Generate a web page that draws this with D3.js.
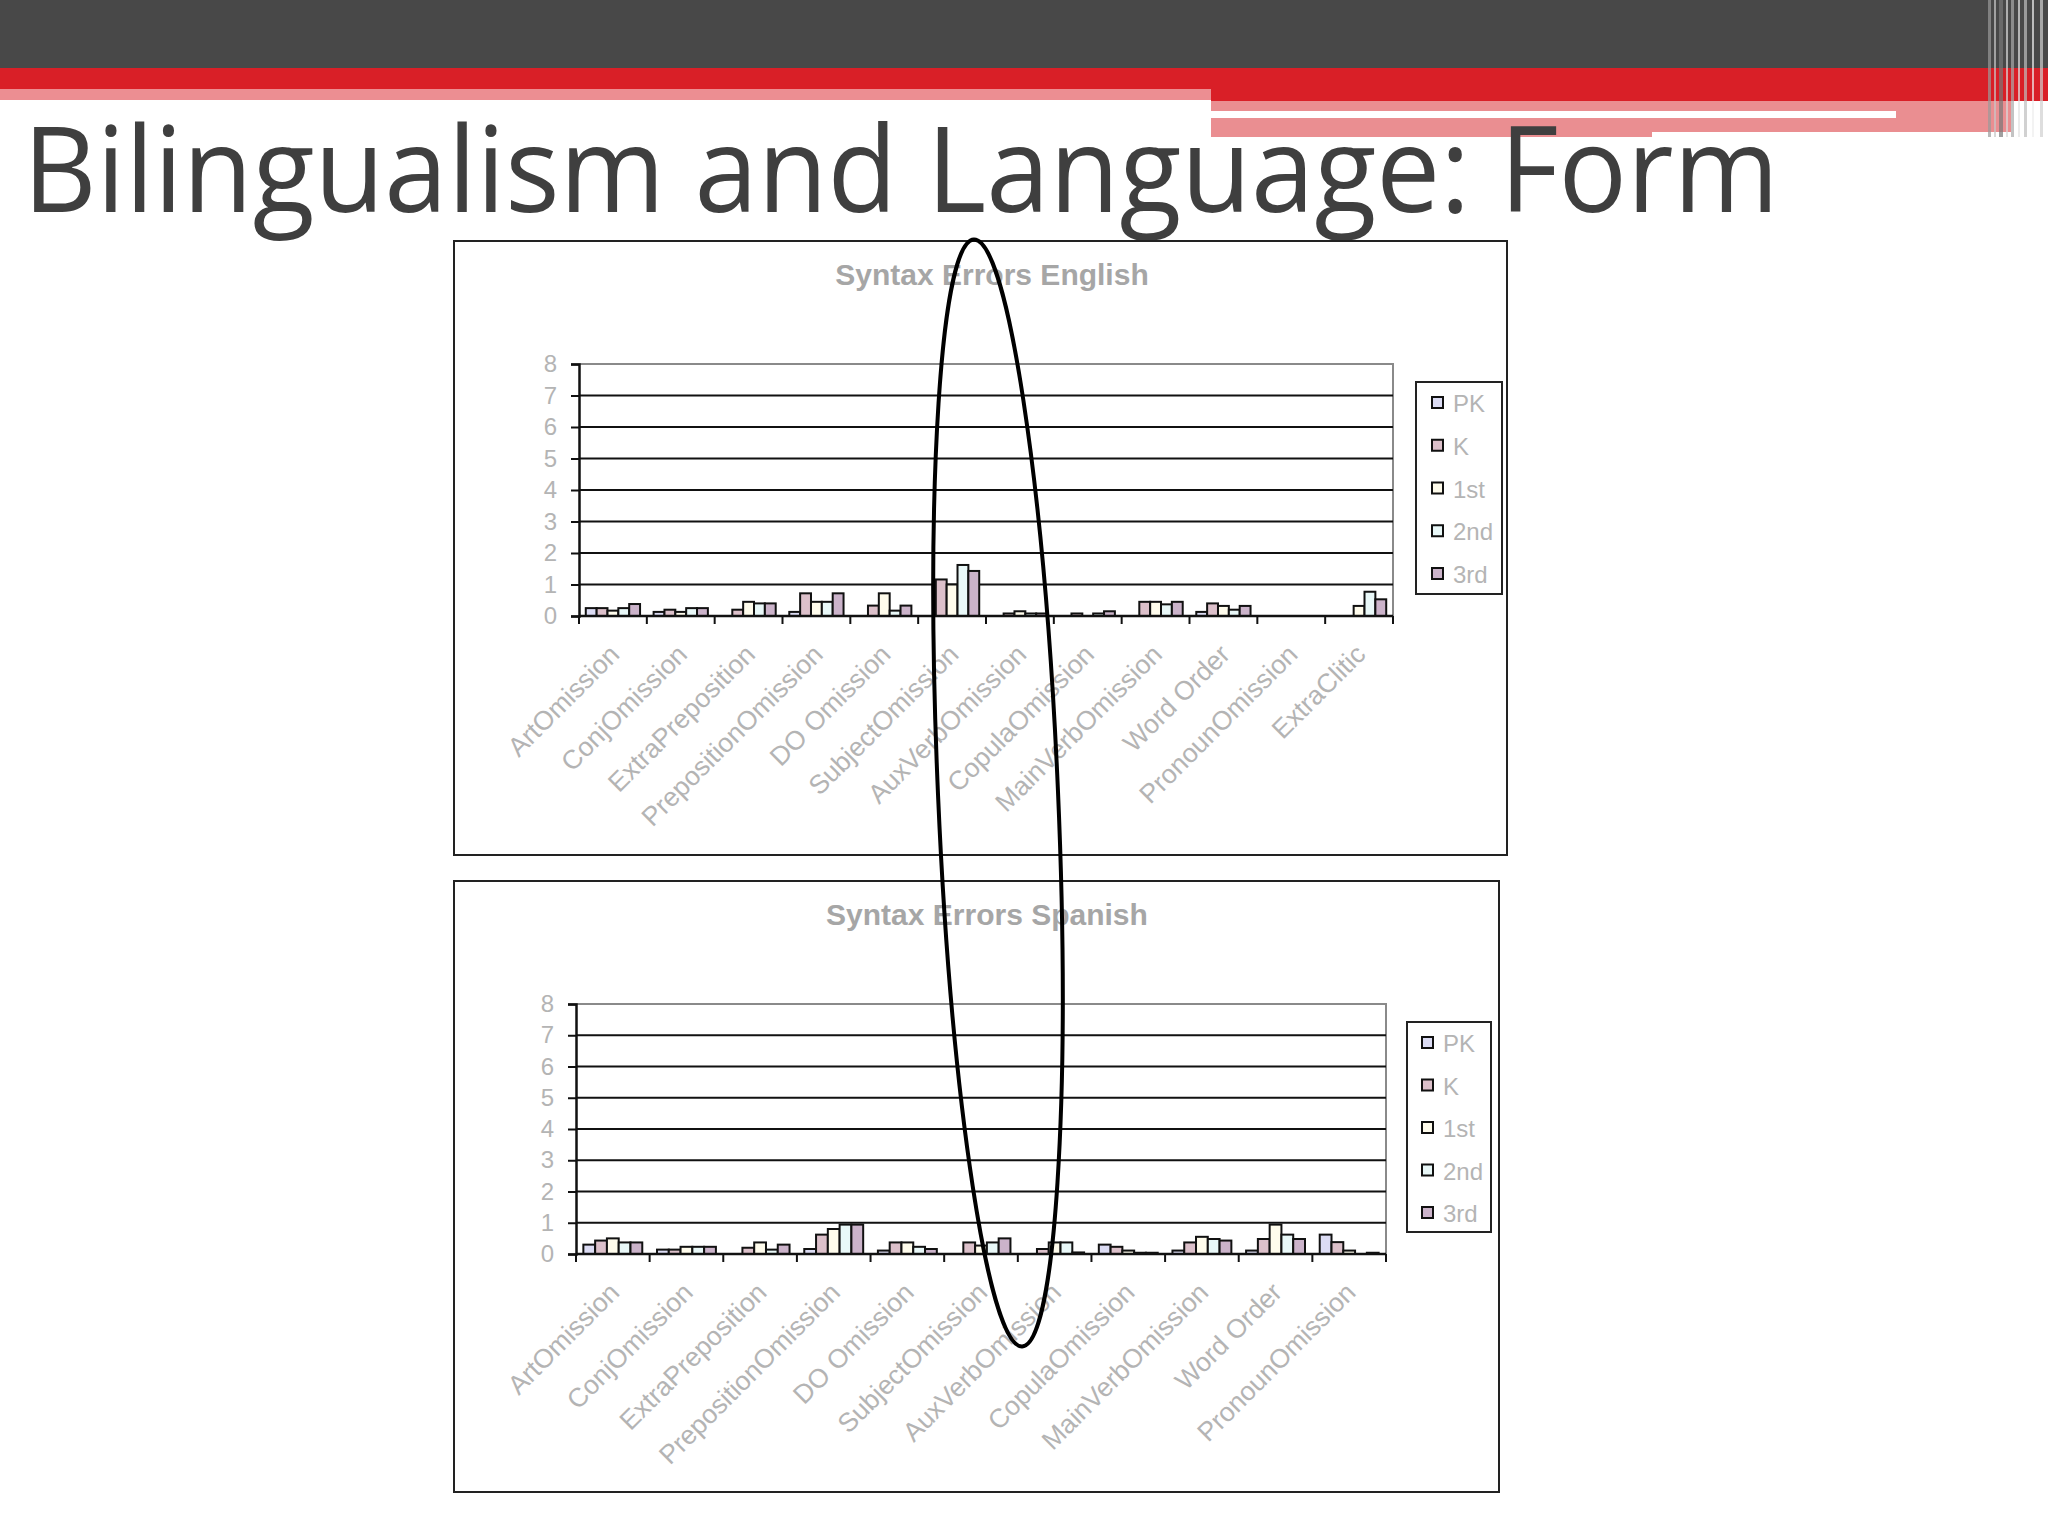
<!DOCTYPE html>
<html>
<head>
<meta charset="utf-8">
<script src="https://cdn.jsdelivr.net/npm/d3@7"></script>
<style>
  html, body { margin: 0; padding: 0; background: #fff; }
  svg { display: block; }
</style>
</head>
<body>
<svg id="slide" width="2048" height="1536"></svg>
<script>
// --- data ---
const grades = ["PK", "K", "1st", "2nd", "3rd"];
const gradeColors = ["#dcdcf4", "#dcc0ca", "#fffcec", "#e9f8f8", "#cbb3ca"];

const englishCategories = ["ArtOmission", "ConjOmission", "ExtraPreposition", "PrepositionOmission", "DO Omission",
    "SubjectOmission", "AuxVerbOmission", "CopulaOmission", "MainVerbOmission", "Word Order", "PronounOmission", "ExtraClitic"];
const englishPK  = [0.25, 0.13, 0,    0.13, 0,    0,    0,    0,    0,    0.13, 0, 0];
const englishK   = [0.25, 0.20, 0.20, 0.72, 0.33, 1.16, 0.08, 0.08, 0.45, 0.40, 0, 0];
const english1st = [0.17, 0.13, 0.45, 0.45, 0.72, 1.00, 0.15, 0,    0.45, 0.32, 0, 0.32];
const english2nd = [0.25, 0.25, 0.40, 0.45, 0.17, 1.62, 0.08, 0.08, 0.37, 0.20, 0, 0.77];
const english3rd = [0.38, 0.25, 0.40, 0.72, 0.33, 1.43, 0.08, 0.15, 0.45, 0.32, 0, 0.53];

const spanishCategories = ["ArtOmission", "ConjOmission", "ExtraPreposition", "PrepositionOmission", "DO Omission",
    "SubjectOmission", "AuxVerbOmission", "CopulaOmission", "MainVerbOmission", "Word Order", "PronounOmission"];
const spanishPK  = [0.30, 0.14, 0,    0.16, 0.11, 0,    0,    0.30, 0.11, 0.11, 0.62];
const spanishK   = [0.43, 0.14, 0.20, 0.62, 0.37, 0.37, 0.16, 0.23, 0.37, 0.48, 0.38];
const spanish1st = [0.50, 0.23, 0.37, 0.80, 0.37, 0.27, 0.37, 0.11, 0.55, 0.94, 0.11];
const spanish2nd = [0.37, 0.23, 0.14, 0.94, 0.23, 0.37, 0.37, 0.04, 0.48, 0.62, 0];
const spanish3rd = [0.37, 0.23, 0.30, 0.94, 0.16, 0.50, 0.05, 0.04, 0.43, 0.48, 0.04];

const yTicks = [0, 1, 2, 3, 4, 5, 6, 7, 8];

const svg = d3.select("#slide");
const FONT = "'Liberation Sans', Arial, sans-serif";
const LABEL_GREY = "#b4b4b4";

// --- slide header bands ---
const header = svg.append("g");
header.append("rect").attr("x", 0).attr("y", 0).attr("width", 2048).attr("height", 68).attr("fill", "#484848");
header.append("rect").attr("x", 0).attr("y", 68).attr("width", 2048).attr("height", 21).attr("fill", "#d91f27");
header.append("rect").attr("x", 0).attr("y", 89).attr("width", 1211).attr("height", 11).attr("fill", "#ec8e92");
header.append("rect").attr("x", 1211).attr("y", 89).attr("width", 837).attr("height", 12).attr("fill", "#d91f27");
header.append("rect").attr("x", 1211).attr("y", 101).attr("width", 800).attr("height", 31).attr("fill", "#ea8e91");
header.append("rect").attr("x", 1211).attr("y", 132).attr("width", 441).attr("height", 5).attr("fill", "#ea8e91");
header.append("rect").attr("x", 1211).attr("y", 111).attr("width", 685).attr("height", 7).attr("fill", "#fff");
// faded vertical stripes at the right edge
const stripes = [[1988, 3, "#9a9a9a"], [1994, 2, "#c8c8c8"], [1999, 4, "#777"], [2006, 2, "#d8d8d8"],
    [2011, 3, "#aaa"], [2018, 2, "#e2e2e2"], [2024, 3, "#bdbdbd"], [2032, 2, "#eee"], [2040, 3, "#d0d0d0"]];
stripes.forEach(s => header.append("rect").attr("x", s[0]).attr("y", 0).attr("width", s[1]).attr("height", 137)
    .attr("fill", s[2]).attr("opacity", 0.7));

svg.append("text")
    .attr("x", 23).attr("y", 212)
    .attr("textLength", 1756).attr("lengthAdjust", "spacingAndGlyphs")
    .attr("font-family", "'Open Sans', 'Noto Sans', sans-serif")
    .attr("font-size", 119)
    .attr("fill", "#3f3f3f")
    .text("Bilingualism and Language: Form");

function drawChart(cfg) {
    const g = svg.append("g");
    g.append("rect")
        .attr("x", cfg.frame[0]).attr("y", cfg.frame[1])
        .attr("width", cfg.frame[2] - cfg.frame[0]).attr("height", cfg.frame[3] - cfg.frame[1])
        .attr("fill", "#fff").attr("stroke", "#222").attr("stroke-width", 2);

    g.append("text")
        .attr("x", cfg.titleX).attr("y", cfg.titleY)
        .attr("text-anchor", "middle")
        .attr("font-family", FONT).attr("font-weight", "bold").attr("font-size", 30)
        .attr("fill", "#a6a6a6")
        .text(cfg.title);

    const x = d3.scaleBand().domain(cfg.categories).range([cfg.left, cfg.right]);
    const xg = d3.scaleBand().domain(grades).range([x.bandwidth() * 0.1, x.bandwidth() * 0.9]);
    const y = d3.scaleLinear().domain([0, 8]).range([cfg.bottom, cfg.top]);

    // plot area border (grey on top and right)
    g.append("path")
        .attr("d", `M${cfg.left},${cfg.top}H${cfg.right}V${cfg.bottom}`)
        .attr("fill", "none").attr("stroke", "#8a8a8a").attr("stroke-width", 2);

    // gridlines
    g.selectAll("line.grid").data(yTicks.filter(t => t > 0 && t < 8)).join("line")
        .attr("x1", cfg.left).attr("x2", cfg.right)
        .attr("y1", d => y(d)).attr("y2", d => y(d))
        .attr("stroke", "#111").attr("stroke-width", 2);

    // y axis
    const yAxis = g.append("g").attr("transform", `translate(${cfg.left},0)`)
        .call(d3.axisLeft(y).tickValues(yTicks).tickSize(8).tickPadding(14));
    yAxis.select(".domain").attr("stroke", "#111").attr("stroke-width", 2.5);
    yAxis.selectAll(".tick line").attr("stroke", "#111").attr("stroke-width", 2);
    yAxis.selectAll(".tick text").attr("font-family", FONT).attr("font-size", 24).attr("fill", LABEL_GREY);

    // bars
    const series = cfg.series;
    const groups = g.append("g").selectAll("g").data(cfg.categories).join("g")
        .attr("transform", d => `translate(${x(d)},0)`);
    groups.selectAll("rect")
        .data((d, i) => grades.map((gr, j) => ({grade: gr, color: gradeColors[j], value: series[j][i]})).filter(b => b.value > 0))
        .join("rect")
        .attr("x", b => xg(b.grade))
        .attr("width", xg.bandwidth())
        .attr("y", b => y(b.value))
        .attr("height", b => y(0) - y(b.value))
        .attr("fill", b => b.color)
        .attr("stroke", "#111").attr("stroke-width", 2);

    // x axis
    const xAxis = g.append("g").attr("transform", `translate(0,${cfg.bottom})`);
    xAxis.append("line").attr("x1", cfg.left).attr("x2", cfg.right).attr("stroke", "#111").attr("stroke-width", 2.5);
    const bounds = cfg.categories.map(c => x(c)).concat([cfg.right]);
    xAxis.selectAll("line.tick").data(bounds).join("line")
        .attr("x1", d => d).attr("x2", d => d).attr("y1", 0).attr("y2", 8)
        .attr("stroke", "#111").attr("stroke-width", 2);
    xAxis.selectAll("text").data(cfg.categories).join("text")
        .attr("transform", d => `translate(${x(d) + x.bandwidth() / 2 + 8},40) rotate(-45)`)
        .attr("text-anchor", "end")
        .attr("font-family", FONT).attr("font-size", 26.5)
        .attr("fill", LABEL_GREY)
        .text(d => d);

    // legend
    const lg = g.append("g");
    lg.append("rect")
        .attr("x", cfg.legend[0]).attr("y", cfg.legend[1])
        .attr("width", cfg.legend[2] - cfg.legend[0]).attr("height", cfg.legend[3] - cfg.legend[1])
        .attr("fill", "#fff").attr("stroke", "#222").attr("stroke-width", 2);
    const ly = d3.scalePoint().domain(grades).range([cfg.legendItemY[0], cfg.legendItemY[1]]);
    const items = lg.selectAll("g").data(grades).join("g")
        .attr("transform", d => `translate(${cfg.legendSwatchX},${ly(d)})`);
    items.append("rect")
        .attr("x", 0).attr("y", -6).attr("width", 11).attr("height", 11)
        .attr("fill", (d, i) => gradeColors[i]).attr("stroke", "#111").attr("stroke-width", 2);
    items.append("text")
        .attr("x", 21).attr("y", 9)
        .attr("font-family", FONT).attr("font-size", 24).attr("fill", LABEL_GREY)
        .text(d => d);
}

drawChart({
    title: "Syntax Errors English", titleX: 992, titleY: 285,
    frame: [454, 241, 1507, 855],
    left: 579, right: 1393, top: 364, bottom: 616,
    categories: englishCategories,
    series: [englishPK, englishK, english1st, english2nd, english3rd],
    legend: [1416, 382, 1502, 594], legendItemY: [403, 574], legendSwatchX: 1432
});

drawChart({
    title: "Syntax Errors Spanish", titleX: 987, titleY: 925,
    frame: [454, 881, 1499, 1492],
    left: 576, right: 1386, top: 1004, bottom: 1254,
    categories: spanishCategories,
    series: [spanishPK, spanishK, spanish1st, spanish2nd, spanish3rd],
    legend: [1407, 1022, 1491, 1232], legendItemY: [1043, 1213], legendSwatchX: 1422
});

// hand-drawn ellipse highlighting SubjectOmission / AuxVerbOmission
svg.append("ellipse")
    .attr("cx", 0).attr("cy", 0).attr("rx", 60).attr("ry", 554)
    .attr("transform", "translate(998,793) rotate(-2.5)")
    .attr("fill", "none").attr("stroke", "#000").attr("stroke-width", 4);
</script>
</body>
</html>
